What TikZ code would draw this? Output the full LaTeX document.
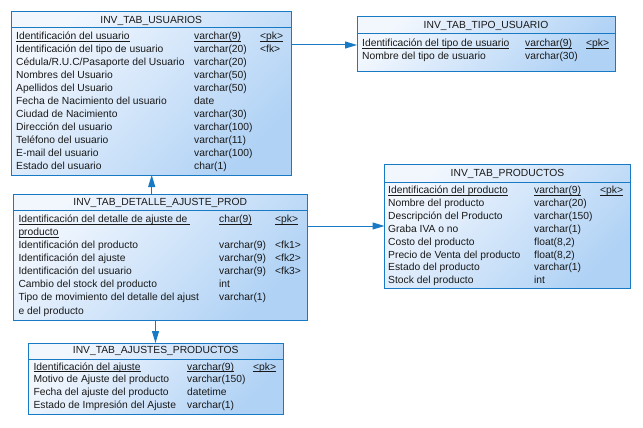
\documentclass[tikz,border=0pt]{standalone}
\usepackage{fontspec}
\setmainfont{Liberation Sans}
\usetikzlibrary{arrows.meta}
\definecolor{bc}{RGB}{24,122,196}
\definecolor{fla}{RGB}{242,247,254}
\definecolor{flb}{RGB}{176,210,245}
\definecolor{txc}{RGB}{25,25,25}
\newcommand\tf{\fontsize{10.3}{12}\selectfont}
\newcommand\ulx[1]{\setbox0\hbox{#1}\rlap{\rule[-1.8pt]{\wd0}{0.75pt}}\box0}
\tikzset{
 tbl/.style={draw=bc, line width=1pt, top color=fla, bottom color=flb, shading angle=45, anchor=north west, inner sep=0pt, outer sep=0pt},
 cell/.style={anchor=base west, inner sep=0pt, font=\tf, text=txc},
 ttl/.style={anchor=base, inner sep=0pt, font=\tf, text=txc},
 sepline/.style={draw=bc, line width=1pt},
 conn/.style={draw=bc, line width=1pt, -{Triangle[length=12pt,width=7pt]}}
}
\begin{document}
\begin{tikzpicture}[x=1pt,y=-1pt]
\useasboundingbox (0,0) rectangle (643,428);
\fill[white] (0,0) rectangle (643,428);

% tables
\node[tbl, minimum width=280.5pt, minimum height=163pt] (usr) at (11,12) {};
\node[tbl, minimum width=258pt, minimum height=55pt] (tipo) at (357,17) {};
\node[tbl, minimum width=246pt, minimum height=124.5pt] (prod) at (384.5,164) {};
\node[tbl, minimum width=294pt, minimum height=126pt] (det) at (13.3,194) {};
\node[tbl, minimum width=255.5pt, minimum height=71pt] (aju) at (28,343) {};

% separators
\draw[sepline] (usr.west |- 0,28) -- (usr.east |- 0,28);
\draw[sepline] (tipo.west |- 0,33.5) -- (tipo.east |- 0,33.5);
\draw[sepline] (prod.west |- 0,182) -- (prod.east |- 0,182);
\draw[sepline] (det.west |- 0,210) -- (det.east |- 0,210);
\draw[sepline] (aju.west |- 0,359) -- (aju.east |- 0,359);

% titles
\node[ttl] (usrT) at (usr.north |- 0,23.5) {INV\_TAB\_USUARIOS};
\node[ttl] (tipoT) at (tipo.north |- 0,29) {INV\_TAB\_TIPO\_USUARIO};
\node[ttl] (prodT) at (prod.north |- 0,176.5) {INV\_TAB\_PRODUCTOS};
\node[ttl] (detT) at (det.north |- 0,205.5) {INV\_TAB\_DETALLE\_AJUSTE\_PROD};
\node[ttl] (ajuT) at (aju.north |- 0,353.5) {INV\_TAB\_AJUSTES\_PRODUCTOS};

% INV_TAB_USUARIOS rows
\node[cell] (u1a) at (16,39.5) {\ulx{Identificación del usuario}};
\node[cell] (u1b) at (194,39.5) {\ulx{varchar(9)}};
\node[cell] (u1c) at (260,39.5) {\ulx{<pk>}};
\node[cell] (u2a) at (16,52.5) {Identificación del tipo de usuario};
\node[cell] (u2b) at (194,52.5) {varchar(20)};
\node[cell] (u2c) at (260,52.5) {<fk>};
\node[cell] (u3a) at (16,65.5) {Cédula/R.U.C/Pasaporte del Usuario};
\node[cell] (u3b) at (194,65.5) {varchar(20)};
\node[cell] (u4a) at (16,78.5) {Nombres del Usuario};
\node[cell] (u4b) at (194,78.5) {varchar(50)};
\node[cell] (u5a) at (16,91.5) {Apellidos del Usuario};
\node[cell] (u5b) at (194,91.5) {varchar(50)};
\node[cell] (u6a) at (16,104.5) {Fecha de Nacimiento del usuario};
\node[cell] (u6b) at (194,104.5) {date};
\node[cell] (u7a) at (16,117.5) {Ciudad de Nacimiento};
\node[cell] (u7b) at (194,117.5) {varchar(30)};
\node[cell] (u8a) at (16,130.5) {Dirección del usuario};
\node[cell] (u8b) at (194,130.5) {varchar(100)};
\node[cell] (u9a) at (16,143.5) {Teléfono del usuario};
\node[cell] (u9b) at (194,143.5) {varchar(11)};
\node[cell] (u10a) at (16,156.5) {E-mail del usuario};
\node[cell] (u10b) at (194,156.5) {varchar(100)};
\node[cell] (u11a) at (16,169.5) {Estado del usuario};
\node[cell] (u11b) at (194,169.5) {char(1)};

% INV_TAB_TIPO_USUARIO rows
\node[cell] (t1a) at (362,46.5) {\ulx{Identificación del tipo de usuario}};
\node[cell] (t1b) at (525,46.5) {\ulx{varchar(9)}};
\node[cell] (t1c) at (586,46.5) {\ulx{<pk>}};
\node[cell] (t2a) at (362,59.5) {Nombre del tipo de usuario};
\node[cell] (t2b) at (525,59.5) {varchar(30)};

% INV_TAB_PRODUCTOS rows
\node[cell] (p1a) at (388,193.5) {\ulx{Identificación del producto}};
\node[cell] (p1b) at (534,193.5) {\ulx{varchar(9)}};
\node[cell] (p1c) at (600,193.5) {\ulx{<pk>}};
\node[cell] (p2a) at (388,206.4) {Nombre del producto};
\node[cell] (p2b) at (534,206.4) {varchar(20)};
\node[cell] (p3a) at (388,219.3) {Descripción del Producto};
\node[cell] (p3b) at (534,219.3) {varchar(150)};
\node[cell] (p4a) at (388,232.2) {Graba IVA o no};
\node[cell] (p4b) at (534,232.2) {varchar(1)};
\node[cell] (p5a) at (388,245.1) {Costo del producto};
\node[cell] (p5b) at (534,245.1) {float(8,2)};
\node[cell] (p6a) at (388,258) {Precio de Venta del producto};
\node[cell] (p6b) at (534,258) {float(8,2)};
\node[cell] (p7a) at (388,270.9) {Estado del producto};
\node[cell] (p7b) at (534,270.9) {varchar(1)};
\node[cell] (p8a) at (388,283.8) {Stock del producto};
\node[cell] (p8b) at (534,283.8) {int};

% INV_TAB_DETALLE_AJUSTE_PROD rows
\node[cell] (d1a) at (18.3,222.7) {\ulx{Identificación del detalle de ajuste de }};
\node[cell] (d1b) at (219,222.7) {\ulx{char(9)}};
\node[cell] (d1c) at (275,222.7) {\ulx{<pk>}};
\node[cell] (d1d) at (18.3,235.7) {\ulx{producto}};
\node[cell] (d2a) at (18.3,248.8) {Identificación del producto};
\node[cell] (d2b) at (219,248.8) {varchar(9)};
\node[cell] (d2c) at (275,248.8) {<fk1>};
\node[cell] (d3a) at (18.3,261.8) {Identificación del ajuste};
\node[cell] (d3b) at (219,261.8) {varchar(9)};
\node[cell] (d3c) at (275,261.8) {<fk2>};
\node[cell] (d4a) at (18.3,274.9) {Identificación del usuario};
\node[cell] (d4b) at (219,274.9) {varchar(9)};
\node[cell] (d4c) at (275,274.9) {<fk3>};
\node[cell] (d5a) at (18.3,287.9) {Cambio del stock del producto};
\node[cell] (d5b) at (219,287.9) {int};
\node[cell] (d6a) at (18.3,300.9) {Tipo de movimiento del detalle del ajust};
\node[cell] (d6b) at (219,300.9) {varchar(1)};
\node[cell] (d6d) at (18.3,314) {e del producto};

% INV_TAB_AJUSTES_PRODUCTOS rows
\node[cell] (a1a) at (33.3,370) {\ulx{Identificación del ajuste}};
\node[cell] (a1b) at (187,370) {\ulx{varchar(9)}};
\node[cell] (a1c) at (253,370) {\ulx{<pk>}};
\node[cell] (a2a) at (33.3,382.8) {Motivo de Ajuste del producto};
\node[cell] (a2b) at (187,382.8) {varchar(150)};
\node[cell] (a3a) at (33.3,395.6) {Fecha del ajuste del producto};
\node[cell] (a3b) at (187,395.6) {datetime};
\node[cell] (a4a) at (33.3,408.4) {Estado de Impresión del Ajuste};
\node[cell] (a4b) at (187,408.4) {varchar(1)};

% connectors
\draw[conn] (usr.east |- 0,45) -- (tipo.west |- 0,45);
\draw[conn] (det.north -| 151.7,0) -- (usr.south -| 151.7,0);
\draw[conn] (det.east |- 0,226) -- (prod.west |- 0,226);
\draw[conn] (det.south -| 155.5,0) -- (aju.north -| 155.5,0);
\end{tikzpicture}
\end{document}
